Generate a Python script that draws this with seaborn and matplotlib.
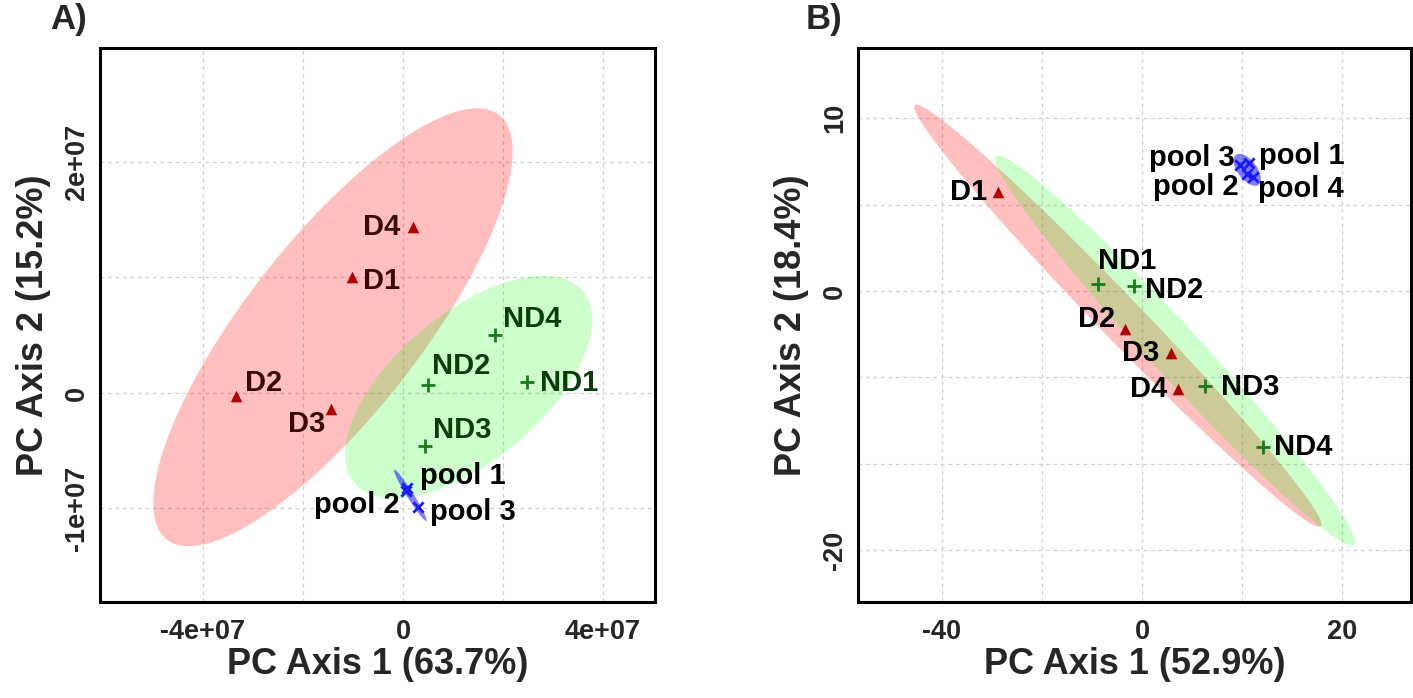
import matplotlib
matplotlib.use("Agg")

import matplotlib.pyplot as plt
import numpy as np
import pandas as pd
import seaborn as sns

sns.set_style("white")
plt.rcParams["font.family"] = ["Liberation Sans", "DejaVu Sans"]
plt.rcParams["font.weight"] = "bold"

# ---- panel A data ----
a_names = ["D1", "D2", "D3", "D4", "ND1", "ND2", "ND3", "ND4", "pool 1", "pool 2", "pool 3"]
a_group = ["D"] * 4 + ["ND"] * 4 + ["pool"] * 3
a_pc1 = [-1.02e7, -3.34e7, -1.44e7, 2.0e6, 2.48e7, 5.0e6, 4.4e6, 1.84e7, 8.0e5, 6.0e5, 3.0e6]
a_pc2 = [1.0e7, -2.6e5, -1.39e6, 1.44e7, 9.5e5, 6.9e5, -4.6e6, 5.0e6, -8.2e6, -8.5e6, -9.9e6]
a_xticks = [-4e7, -2e7, 0, 2e7, 4e7]
a_xticklabels = ["-4e+07", "", "0", "", "4e+07"]
a_yticks = [-1e7, 0, 1e7, 2e7]
a_yticklabels = ["-1e+07", "0", "", "2e+07"]

# ---- panel B data ----
b_names = ["D1", "D2", "D3", "D4", "ND1", "ND2", "ND3", "ND4",
           "pool 1", "pool 2", "pool 3", "pool 4"]
b_group = ["D"] * 4 + ["ND"] * 4 + ["pool"] * 4
b_pc1 = [-14.4, -1.7, 2.87, 3.57, -4.37, -0.8, 6.3, 12.13, 10.7, 10.47, 9.8, 11.13]
b_pc2 = [5.74, -2.20, -3.57, -5.68, 0.40, 0.29, -5.47, -9.0, 7.38, 6.77, 7.28, 6.61]
b_xticks = [-20, -10, 0, 10, 20]
b_xticklabels = ["-40", "", "0", "", "20"]
b_yticks = [-15, -10, -5, 0, 5, 10]
b_yticklabels = ["-20", "", "", "0", "", "10"]

# label offsets in pixels (dx, dy, ha)
a_offsets = {
    "D1": (11, -4, "left"), "D2": (9, 13, "left"), "D3": (-6, -15, "right"),
    "D4": (-13, 0, "right"), "ND1": (13, -1, "left"), "ND2": (4, 19, "left"),
    "ND3": (8, 16, "left"), "ND4": (8, 16, "left"), "pool 1": (13, 12, "left"),
    "pool 2": (-6, -14, "right"), "pool 3": (12, -5, "left"),
}
b_offsets = {
    "D1": (-11, 0, "right"), "D2": (-10, 10, "right"), "D3": (-11, 0, "right"),
    "D4": (-10, 0, "right"), "ND1": (0, 23, "left"), "ND2": (11, -4, "left"),
    "ND3": (16, -1, "left"), "ND4": (11, 0, "left"), "pool 1": (10, 7, "left"),
    "pool 2": (-8, -13, "right"), "pool 3": (-5, 7, "right"), "pool 4": (5, -12, "left"),
}

fill = {"D": ("#ff0000", 0.25), "ND": ("#00ff00", 0.2), "pool": ("#0000ff", 0.5)}
mark = {"D": ("^", "#b00000", 70), "ND": ("+", "#1b7a1b", 110), "pool": ("x", "#1a1aff", 55)}
a_textcol = {"D": "#3a0808", "ND": "#0b3d0b", "pool": "black"}
b_textcol = {"D": "black", "ND": "black", "pool": "black"}


def ellipse_xy(x, y, n=200):
    # 95% normal data ellipse from sample covariance
    x, y = np.asarray(x), np.asarray(y)
    cov = np.cov(x, y)
    vals, vecs = np.linalg.eigh(cov)
    vals = np.clip(vals, 0, None)
    r = np.sqrt(-2 * np.log(0.05))
    t = np.linspace(0, 2 * np.pi, n)
    circ = np.vstack([np.cos(t), np.sin(t)])
    pts = vecs @ np.diag(np.sqrt(vals)) @ circ * r
    return x.mean() + pts[0], y.mean() + pts[1]


def draw_panel(ax, df, offsets, textcol, xlim, ylim, xticks, xtl, yticks, ytl, xlab, ylab):
    for g in ["D", "ND", "pool"]:
        sub = df[df["group"] == g]
        ex, ey = ellipse_xy(sub["pc1"], sub["pc2"])
        c, a = fill[g]
        ax.fill(ex, ey, color=c, alpha=a, lw=0, zorder=1)
    for g in ["D", "ND", "pool"]:
        sub = df[df["group"] == g]
        m, c, s = mark[g]
        if m == "^":
            sns.scatterplot(data=sub, x="pc1", y="pc2", marker=m, color=c, s=s,
                            linewidth=0, ax=ax, zorder=3, legend=False)
        else:
            sns.scatterplot(data=sub, x="pc1", y="pc2", marker=m, color=c, s=s,
                            linewidth=2.0, ax=ax, zorder=3, legend=False)
    for _, row in df.iterrows():
        dx, dy, ha = offsets[row["name"]]
        ax.annotate(row["name"], (row["pc1"], row["pc2"]), xytext=(dx, dy),
                    textcoords="offset pixels", ha=ha, va="center", fontsize=21,
                    fontweight="bold", color=textcol[row["group"]], zorder=4)
    ax.set_xlim(*xlim)
    ax.set_ylim(*ylim)
    ax.set_xticks(xticks)
    ax.set_xticklabels(xtl, fontsize=19.5, fontweight="bold")
    ax.set_yticks(yticks)
    ax.set_yticklabels(ytl, fontsize=19.5, fontweight="bold", rotation=90, va="center")
    ax.tick_params(length=0, axis="x", pad=12)
    ax.tick_params(length=0, axis="y", pad=7)
    ax.grid(True, color="#cfcfcf", linestyle=(0, (3, 3)), linewidth=0.9)
    ax.set_axisbelow(True)
    for sp in ax.spines.values():
        sp.set_color("black")
        sp.set_linewidth(2.2)
        sp.set_zorder(5)
    ax.set_xlabel(xlab, fontsize=26, fontweight="bold")
    ax.set_ylabel(ylab, fontsize=26, fontweight="bold")
    ax.xaxis.set_label_coords(0.5, -0.082)
    ax.yaxis.set_label_coords(-0.088, 0.5)


df_a = pd.DataFrame({"name": a_names, "group": a_group, "pc1": a_pc1, "pc2": a_pc2})
df_b = pd.DataFrame({"name": b_names, "group": b_group, "pc1": b_pc1, "pc2": b_pc2})

fig = plt.figure(figsize=(14.13, 6.98), dpi=100)
ax_a = fig.add_axes([100 / 1413, 1 - 602 / 698, 555 / 1413, 554 / 698])
ax_b = fig.add_axes([858 / 1413, 1 - 602 / 698, 553 / 1413, 554 / 698])

draw_panel(ax_a, df_a, a_offsets, a_textcol, (-6.06e7, 5.04e7), (-1.81e7, 2.987e7),
           a_xticks, a_xticklabels, a_yticks, a_yticklabels,
           "PC Axis 1 (63.7%)", "PC Axis 2 (15.2%)")
draw_panel(ax_b, df_b, b_offsets, b_textcol, (-28.4, 26.9), (-17.98, 14.05),
           b_xticks, b_xticklabels, b_yticks, b_yticklabels,
           "PC Axis 1 (52.9%)", "PC Axis 2 (18.4%)")

fig.text(50 / 1413, 1 - 20 / 698, "A)", fontsize=25, fontweight="bold", va="center", ha="left")
fig.text(806 / 1413, 1 - 20 / 698, "B)", fontsize=25, fontweight="bold", va="center", ha="left")

fig.savefig("out.png", dpi=100)
